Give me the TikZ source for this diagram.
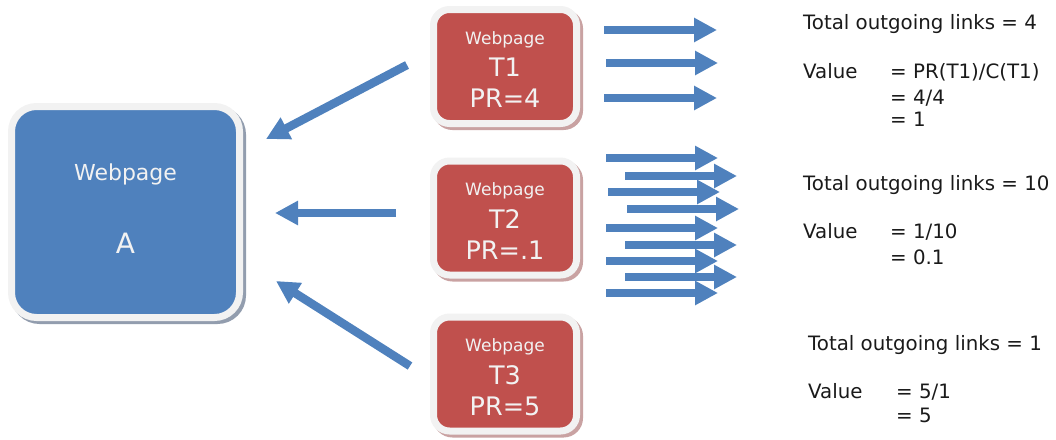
\documentclass[tikz,border=0pt]{standalone}
\usepackage{fontspec}
\setmainfont{DejaVu Sans}
\usetikzlibrary{arrows.meta}
\definecolor{ablue}{HTML}{4F81BD}
\definecolor{tred}{HTML}{C0504D}
\definecolor{framecol}{HTML}{F2F2F2}
\definecolor{bshadow}{HTML}{929DAE}
\definecolor{rshadow}{HTML}{C9A2A2}
\definecolor{txtcol}{HTML}{1A1A1A}
\begin{document}
\begin{tikzpicture}[x=1pt,y=-1pt,
  pagebox/.style 2 args={draw=framecol, line width=7pt, fill=#1,
    preaction={draw=#2, fill=#2, line width=7pt, transform canvas={shift={(3pt,-3pt)}}}},
  bluebox/.style={pagebox={ablue}{bshadow}, rounded corners=25pt,
    minimum width=228pt, minimum height=211pt, inner sep=0pt},
  redbox/.style={pagebox={tred}{rshadow}, rounded corners=16pt,
    minimum width=143pt, minimum height=114pt, inner sep=0pt},
  wtext/.style={text=framecol, anchor=base, inner sep=0pt},
  bigt/.style={wtext, font=\fontsize{25.5}{30}\selectfont},
  smallt/.style={wtext, font=\fontsize{17}{20}\selectfont},
  rtext/.style={text=txtcol, anchor=base west, inner sep=0pt,
    font=\fontsize{19.8}{23}\selectfont},
  barrow/.style={draw=ablue, line width=8.5pt, -{Triangle[length=23pt,width=23pt]}}
]
\useasboundingbox (0,0) rectangle (1056,439);

% boxes
\node[bluebox] (A) at (125.5,212) {};
\node[redbox] (T1) at (505,66.5) {};
\node[redbox] (T2) at (505,218) {};
\node[redbox] (T3) at (505,374) {};

% box texts
\node[wtext, font=\fontsize{22}{26}\selectfont] (Aw) at (125.5,180) {Webpage};
\node[wtext, font=\fontsize{28}{32}\selectfont] (Aa) at (125.5,253) {A};

\node[smallt] (T1w) at (505,44) {Webpage};
\node[bigt] (T1n) at (505,76.5) {T1};
\node[bigt] (T1p) at (505,107.5) {PR=4};

\node[smallt] (T2w) at (505,195.5) {Webpage};
\node[bigt] (T2n) at (505,228) {T2};
\node[bigt] (T2p) at (505,259) {PR=.1};

\node[smallt] (T3w) at (505,351.5) {Webpage};
\node[bigt] (T3n) at (505,384) {T3};
\node[bigt] (T3p) at (505,415) {PR=5};

% arrows into A
\coordinate (i1s) at (407,65);  \coordinate (i1e) at (266,139);
\coordinate (i2s) at (396,213); \coordinate (i2e) at (275,213);
\coordinate (i3s) at (410,366); \coordinate (i3e) at (276,281);
\draw[barrow] (i1s) -- (i1e);
\draw[barrow] (i2s) -- (i2e);
\draw[barrow] (i3s) -- (i3e);

% outgoing arrows of T1
\foreach \n/\y/\xa/\xb in {1/30/604/717, 2/63/606/718, 3/98/604/717}{
  \coordinate (a\n s) at (\xa,\y);
  \coordinate (a\n e) at (\xb,\y);
  \draw[barrow] (a\n s) -- (a\n e);
}
% outgoing arrows of T2
\foreach \n/\y/\xa/\xb in {1/158/606/718, 2/176/625/737, 3/192/608/720,
  4/209/627/739, 5/228/606/718, 6/245/625/737, 7/261/606/718,
  8/277/625/737, 9/293/606/718}{
  \coordinate (b\n s) at (\xa,\y);
  \coordinate (b\n e) at (\xb,\y);
  \draw[barrow] (b\n s) -- (b\n e);
}

% right texts
\node[rtext] (t1a) at (803,29) {Total outgoing links = 4};
\node[rtext] (t1b) at (803,78) {Value};
\node[rtext] (t1c) at (890,78) {= PR(T1)/C(T1)};
\node[rtext] (t1d) at (890,104) {= 4/4};
\node[rtext] (t1e) at (890,126) {= 1};

\node[rtext] (t2a) at (803,190) {Total outgoing links = 10};
\node[rtext] (t2b) at (803,238) {Value};
\node[rtext] (t2c) at (890,238) {= 1/10};
\node[rtext] (t2d) at (890,264) {= 0.1};

\node[rtext] (t3a) at (808,350) {Total outgoing links = 1};
\node[rtext] (t3b) at (808,398) {Value};
\node[rtext] (t3c) at (896,398) {= 5/1};
\node[rtext] (t3d) at (896,422) {= 5};
\end{tikzpicture}
\end{document}
